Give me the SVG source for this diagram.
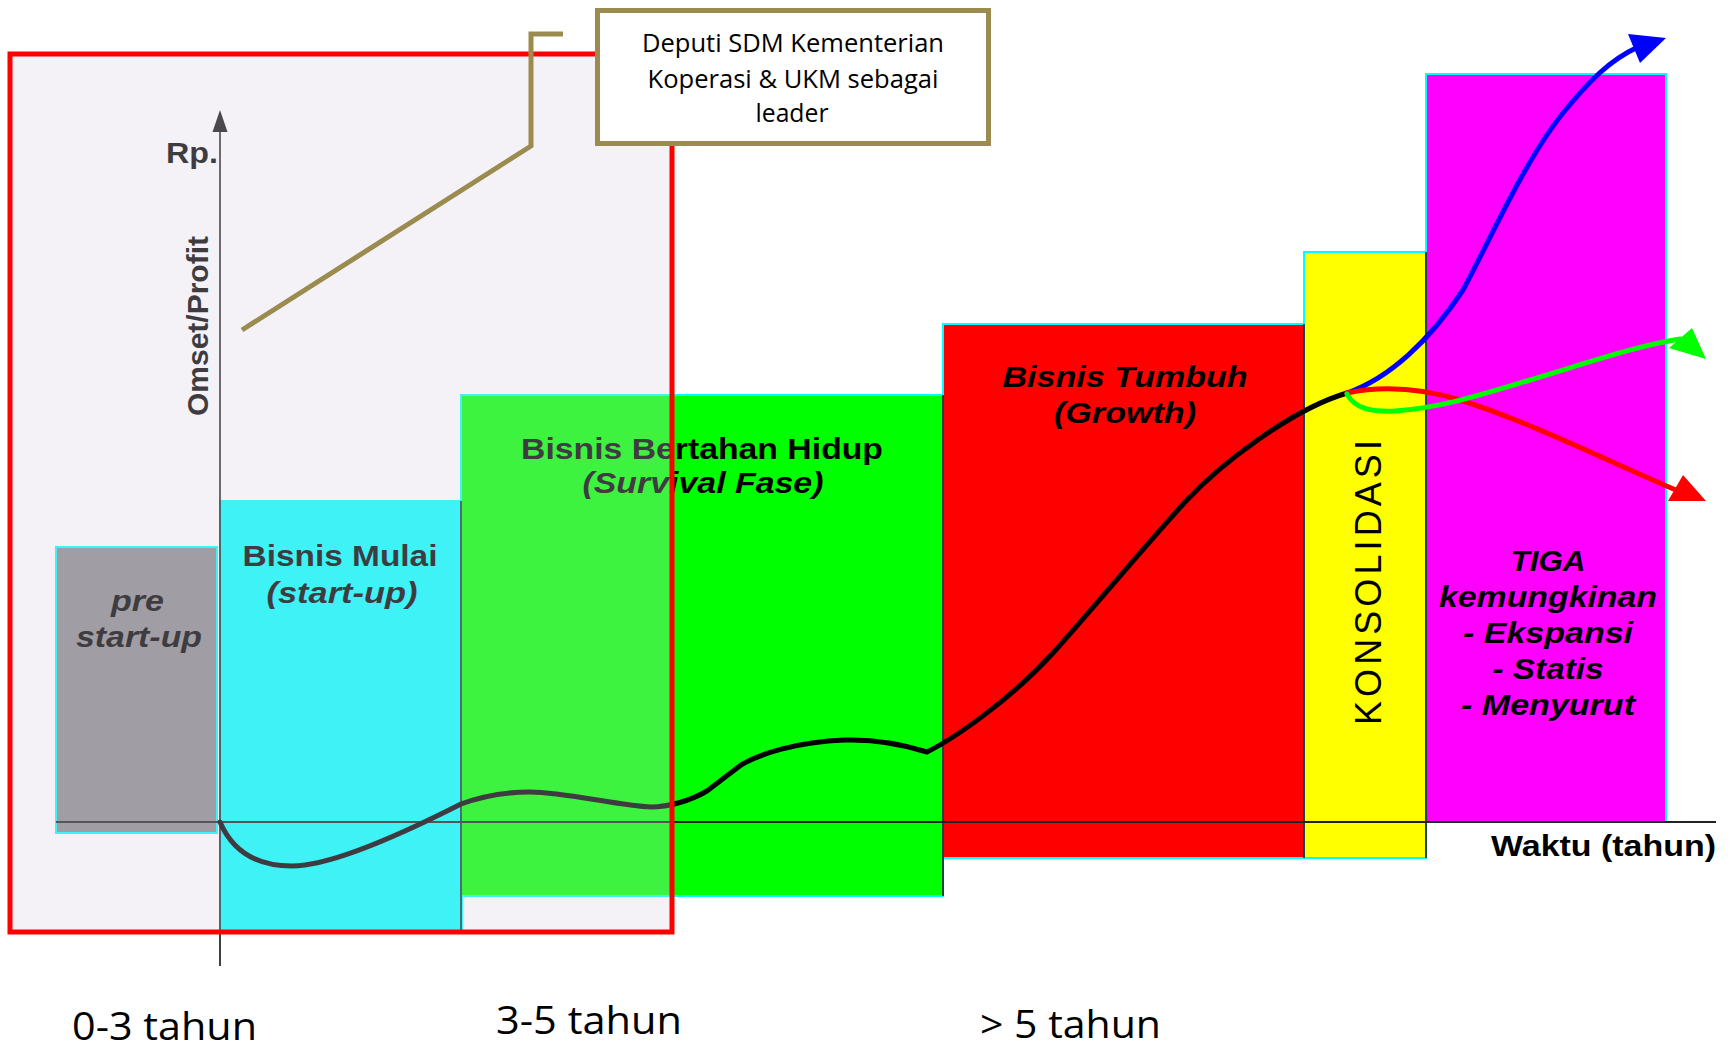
<svg xmlns="http://www.w3.org/2000/svg" width="1732" height="1050" viewBox="0 0 1732 1050">
<style>
.b{font-family:"Liberation Sans",Arial,sans-serif;font-weight:bold;font-size:29px;fill:#000}
.bi{font-family:"Liberation Sans",Arial,sans-serif;font-weight:bold;font-style:italic;font-size:29px;fill:#000}
.c{font-family:"Open Sans","Liberation Sans",sans-serif;font-size:25px;fill:#000}
.y{font-family:"Open Sans","Liberation Sans",sans-serif;font-size:38px;fill:#000}
.m{text-anchor:middle}
.phase{stroke:#00FFFF;stroke-width:2}
.div{stroke:#1a1a1a;stroke-width:1.6}
.crv{fill:none;stroke-width:5;stroke-linecap:round;stroke-linejoin:round}
</style>
<rect width="1732" height="1050" fill="#FFFFFF"/>

<g id="phase-prestartup">
<rect class="phase" x="56" y="547" width="161" height="286" fill="#8A8A8C"/>
<text class="bi m" x="137.5" y="611" textLength="53" lengthAdjust="spacingAndGlyphs">pre</text>
<text class="bi m" x="139" y="647" textLength="126" lengthAdjust="spacingAndGlyphs">start-up</text>
</g>
<g id="phase-startup">
<rect class="phase" x="220" y="501" width="242" height="430" fill="#00FFFF"/>
<text class="b m" x="340" y="566" textLength="195" lengthAdjust="spacingAndGlyphs">Bisnis Mulai</text>
<text class="bi m" x="342" y="603" textLength="151" lengthAdjust="spacingAndGlyphs">(start-up)</text>
</g>
<g id="phase-survival">
<rect class="phase" x="461" y="395" width="482" height="501" fill="#00FF00"/>
<text class="b m" x="702" y="459" textLength="362" lengthAdjust="spacingAndGlyphs">Bisnis Bertahan Hidup</text>
<text class="bi m" x="703" y="493" textLength="241" lengthAdjust="spacingAndGlyphs">(Survival Fase)</text>
</g>
<g id="phase-growth">
<rect class="phase" x="943" y="324" width="361" height="534" fill="#FF0000"/>
<text class="bi m" x="1125" y="387" textLength="245" lengthAdjust="spacingAndGlyphs">Bisnis Tumbuh</text>
<text class="bi m" x="1125" y="423" textLength="142" lengthAdjust="spacingAndGlyphs">(Growth)</text>
</g>
<g id="phase-konsolidasi">
<rect class="phase" x="1304" y="252" width="122" height="606" fill="#FFFF00"/>
<text transform="translate(1381,725) rotate(-90)" font-family="'Liberation Sans',Arial,sans-serif" font-size="36" fill="#000" textLength="285" lengthAdjust="spacing">KONSOLIDASI</text>
</g>
<g id="phase-tiga">
<rect class="phase" x="1426" y="74" width="240" height="748" fill="#FF00FF"/>
<text class="bi m" x="1548" y="571" textLength="75" lengthAdjust="spacingAndGlyphs">TIGA</text>
<text class="bi m" x="1548" y="607" textLength="218" lengthAdjust="spacingAndGlyphs">kemungkinan</text>
<text class="bi m" x="1548" y="643" textLength="170" lengthAdjust="spacingAndGlyphs">- Ekspansi</text>
<text class="bi m" x="1548" y="679" textLength="111" lengthAdjust="spacingAndGlyphs">- Statis</text>
<text class="bi m" x="1548" y="715" textLength="174" lengthAdjust="spacingAndGlyphs">- Menyurut</text>
</g>

<g id="dividers">
<line class="div" x1="461" y1="501" x2="461" y2="932"/>
<line class="div" x1="943" y1="395" x2="943" y2="896"/>
<line class="div" x1="1304" y1="324" x2="1304" y2="858"/>
<line class="div" x1="1426" y1="252" x2="1426" y2="858"/>
</g>

<g id="axes">
<line x1="220" y1="966" x2="220" y2="128" stroke="#111" stroke-width="1.6"/>
<polygon points="220,110 227.5,132 212.5,132" fill="#111"/>
<line x1="56" y1="822" x2="1716" y2="822" stroke="#222" stroke-width="2"/>
<text class="b" x="166" y="163" textLength="52" lengthAdjust="spacingAndGlyphs">Rp.</text>
<text class="b" font-size="33" transform="translate(208,416) rotate(-90)" textLength="180" lengthAdjust="spacingAndGlyphs">Omset/Profit</text>
<text class="b" x="1491" y="856" textLength="225" lengthAdjust="spacingAndGlyphs">Waktu (tahun)</text>
</g>

<g id="connectors">
<path id="curve-main" class="crv" stroke="#000" d="M220,822 C232,850 255,866 292,866 C330,866 400,835 461,804 C480,797 505,792 530,792 C565,792 620,806 651,807 C668,807 690,801 707,791 L741,765 C760,754 795,742 845,740 C880,739 905,745 927,752 C955,738 1010,700 1053,653 C1090,612 1150,540 1187,500 C1220,465 1290,410 1347,393"/>
</g>

<g id="time-labels">
<text class="y" x="72" y="1040" textLength="185" lengthAdjust="spacingAndGlyphs">0-3 tahun</text>
<text class="y" x="496" y="1034" textLength="186" lengthAdjust="spacingAndGlyphs">3-5 tahun</text>
<text class="y" x="980" y="1038" textLength="181" lengthAdjust="spacingAndGlyphs">&gt; 5 tahun</text>
</g>

<g id="frame-leader">
<rect x="10" y="54" width="662" height="878" fill="#D9D0DE" fill-opacity="0.286" stroke="#FF0000" stroke-width="5"/>
</g>

<g id="connectors-outcomes">
<path class="crv" stroke="#0000FF" d="M1347,393 C1390,378 1430,340 1463,290 C1490,240 1525,160 1563,113 C1590,80 1610,60 1638,47"/>
<polygon points="1666,38 1628,34 1640,63" fill="#0000FF"/>
<path class="crv" stroke="#FF0000" d="M1347,393 C1380,386 1420,388 1460,400 C1530,422 1610,462 1676,490"/>
<polygon points="1706,501 1683,475 1668,501" fill="#FF0000"/>
<path class="crv" stroke="#00FF00" d="M1347,394 C1355,410 1375,412 1395,411 C1440,408 1480,395 1530,380 C1590,362 1640,345 1680,339"/>
<polygon points="1706,359 1692,328 1669,348" fill="#00FF00"/>
<path id="leader" fill="none" stroke="#9B8B4F" stroke-width="5" stroke-linejoin="miter" d="M563,34 L531,34 L531,146 L242,330"/>
</g>

<g id="callout">
<rect x="597.5" y="10.5" width="391" height="133" fill="#FFFFFF" stroke="#9B8B4F" stroke-width="5"/>
<text class="c m" x="793" y="52" textLength="302" lengthAdjust="spacingAndGlyphs">Deputi SDM Kementerian</text>
<text class="c m" x="793" y="88" textLength="291" lengthAdjust="spacingAndGlyphs">Koperasi &amp; UKM sebagai</text>
<text class="c m" x="792" y="122" textLength="73" lengthAdjust="spacingAndGlyphs">leader</text>
</g>
</svg>
